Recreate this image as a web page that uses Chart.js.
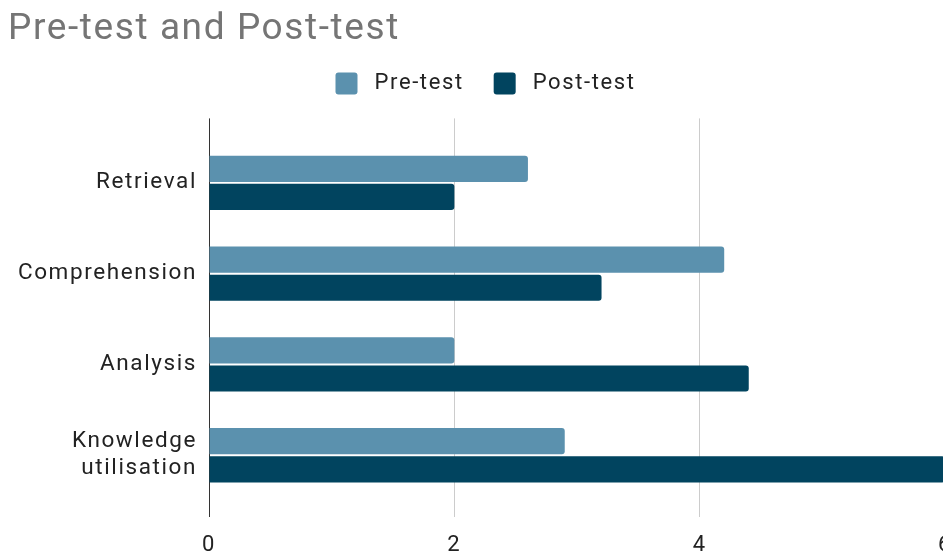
<!DOCTYPE html>
<html>
<head>
<meta charset="utf-8">
<script src="https://cdn.jsdelivr.net/npm/chart.js@4"></script>
<style>
  html, body { margin: 0; padding: 0; background: #fff; overflow: hidden; }
  #wrap { width: 967px; height: 554px; }
</style>
</head>
<body>
<div id="wrap"><canvas id="c" width="967" height="554"></canvas></div>
<script>
const categories = ['Retrieval', 'Comprehension', 'Analysis', ['Knowledge', 'utilisation']];
const preTest = [2.6, 4.2, 2.0, 2.9];
const postTest = [2.0, 3.2, 4.4, 6.0];
const xTicks = [0, 2, 4, 6];

const FONT = 'Roboto, "Liberation Sans", Arial, sans-serif';

const spacingPlugin = {
  id: 'letterSpacing',
  beforeUpdate(chart) { chart.ctx.letterSpacing = '1.6px'; },
  beforeDraw(chart) { chart.ctx.letterSpacing = '1.6px'; }
};

// empty spacer box between the legend and the plot area
const spacerPlugin = {
  id: 'spacer',
  beforeInit(chart) {
    const box = {
      position: 'top',
      weight: 0,
      fullSize: true,
      options: {},
      width: 0, height: 0, left: 0, top: 0, right: 0, bottom: 0,
      update(maxWidth) { this.width = maxWidth; this.height = 14; },
      isHorizontal() { return true; },
      draw() {}
    };
    Chart.layouts.addBox(chart, box);
  }
};

new Chart(document.getElementById('c'), {
  type: 'bar',
  plugins: [spacingPlugin, spacerPlugin],
  data: {
    datasets: [
      {
        label: 'Pre-test',
        data: preTest.map((v, i) => ({ x: v, y: i })),
        backgroundColor: '#5b91ae',
        borderRadius: 3,
        borderSkipped: 'start',
        barPercentage: 0.93,
        categoryPercentage: 0.62
      },
      {
        label: 'Post-test',
        data: postTest.map((v, i) => ({ x: v, y: i })),
        backgroundColor: '#01445f',
        borderRadius: 3,
        borderSkipped: 'start',
        barPercentage: 0.93,
        categoryPercentage: 0.62
      }
    ]
  },
  options: {
    indexAxis: 'y',
    responsive: false,
    animation: false,
    layout: { padding: { left: 8, right: 4, top: 0, bottom: 0 } },
    plugins: {
      title: {
        display: true,
        text: 'Pre-test and Post-test',
        align: 'start',
        color: '#757575',
        font: { family: FONT, size: 37, weight: 'normal' },
        padding: { top: 8, bottom: -10 }
      },
      legend: {
        display: true,
        position: 'top',
        labels: {
          color: '#222',
          font: { family: FONT, size: 22 },
          boxWidth: 22,
          boxHeight: 22,
          useBorderRadius: true,
          borderRadius: 3,
          padding: 30,
          generateLabels: (chart) => {
            const items = Chart.defaults.plugins.legend.labels.generateLabels(chart);
            items.forEach(it => { it.text = '\u2009' + it.text; it.lineWidth = 0; });
            return items;
          }
        }
      },
      tooltip: { enabled: false }
    },
    scales: {
      x: {
        type: 'linear',
        min: 0,
        max: 6,
        afterBuildTicks: (s) => { s.ticks = xTicks.map(v => ({ value: v })); },
        afterFit: (s) => { s.height = 37; },
        grid: {
          color: (ctx) => ctx.tick && ctx.tick.value === 0 ? '#333' : '#cccccc',
          lineWidth: 1,
          drawTicks: false
        },
        border: { display: false },
        ticks: {
          color: '#222',
          font: { family: FONT, size: 22 },
          padding: 15,
          maxRotation: 0
        }
      },
      y: {
        type: 'linear',
        reverse: true,
        offset: false,
        min: -0.71,
        max: 3.68,
        afterBuildTicks: (s) => { s.ticks = categories.map((c, i) => ({ value: i })); },
        afterFit: (s) => { s.width = 201; },
        grid: { display: false, drawTicks: false, offset: false },
        border: { display: false },
        ticks: {
          color: '#222',
          font: { family: FONT, size: 22.5 },
          padding: 12,
          callback: (v) => categories[v]
        }
      }
    }
  }
});
</script>
</body>
</html>
